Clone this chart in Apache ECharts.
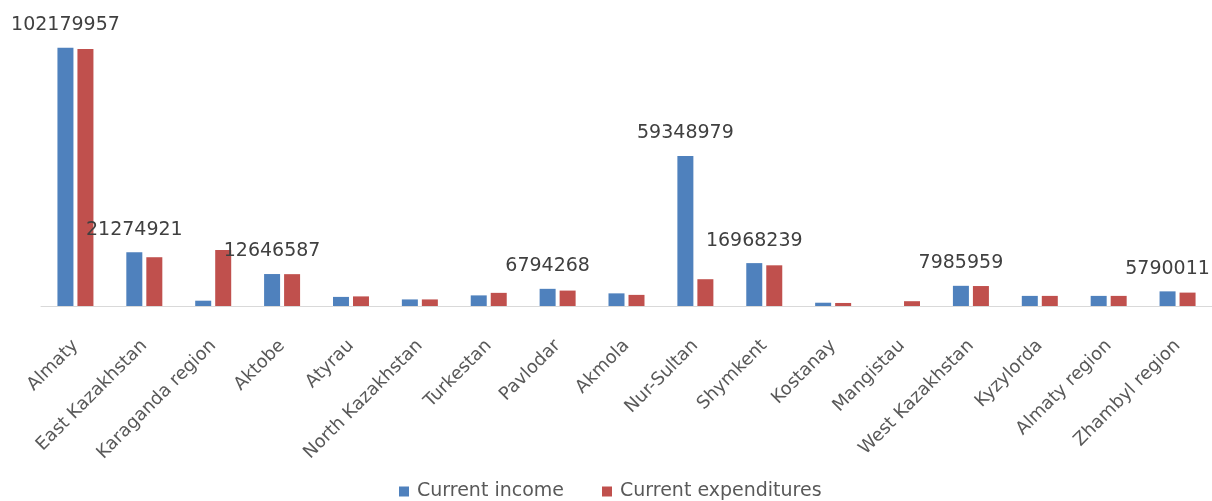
<!DOCTYPE html>
<html>
<head>
<meta charset="utf-8">
<script src="https://cdn.jsdelivr.net/npm/echarts@6/dist/echarts.min.js"></script>
<style>
  html, body { margin: 0; padding: 0; background: #ffffff; }
  #chart { width: 1212px; height: 501px; }
</style>
</head>
<body>
<div id="chart"></div>
<script>
const categories = ["Almaty", "East Kazakhstan", "Karaganda region", "Aktobe", "Atyrau", "North Kazakhstan", "Turkestan", "Pavlodar", "Akmola", "Nur-Sultan", "Shymkent", "Kostanay", "Mangistau", "West Kazakhstan", "Kyzylorda", "Almaty region", "Zhambyl region"];
const currentIncome = [102179957, 21274921, 2100000, 12646587, 3600000, 2600000, 4200000, 6794268, 5000000, 59348979, 16968239, 1300000, 0, 7985959, 4000000, 4000000, 5790011];
const currentExpenditures = [101700000, 19300000, 22200000, 12600000, 3800000, 2600000, 5200000, 6100000, 4400000, 10600000, 16100000, 1200000, 1900000, 7900000, 4000000, 4000000, 5300000];
const labelledIncome = ["Almaty", "East Kazakhstan", "Aktobe", "Pavlodar", "Nur-Sultan", "Shymkent", "West Kazakhstan", "Zhambyl region"];

const chart = echarts.init(document.getElementById('chart'), null, { renderer: 'canvas' });

const incomeData = currentIncome.map((v, i) => ({
  value: v,
  label: { show: labelledIncome.indexOf(categories[i]) >= 0 }
}));

chart.setOption({
  animation: false,
  backgroundColor: '#ffffff',
  grid: { left: 41, right: -3, top: 28, bottom: 195, containLabel: false },
  legend: {
    bottom: -5,
    left: 394,
    icon: 'rect',
    itemWidth: 10,
    itemHeight: 10,
    itemGap: 38,
    textStyle: { fontFamily: 'DejaVu Sans', fontSize: 19, color: '#595959', padding: [0, 0, 0, 3] },
    data: ['Current income', 'Current expenditures']
  },
  xAxis: {
    type: 'category',
    data: categories,
    axisLine: { show: true, lineStyle: { color: '#d9d9d9', width: 1 } },
    axisTick: { show: false },
    axisLabel: {
      interval: 0,
      rotate: 45,
      margin: 37,
      fontFamily: 'DejaVu Sans',
      fontSize: 18,
      color: '#595959'
    }
  },
  yAxis: {
    type: 'value',
    min: 0,
    max: 110000000,
    show: false,
    splitLine: { show: false }
  },
  series: [
    {
      name: 'Current income',
      type: 'bar',
      data: incomeData,
      barWidth: 16,
      barGap: '25%',
      itemStyle: { color: '#4F81BD' },
      label: {
        position: 'top',
        distance: 13,
        fontFamily: 'DejaVu Sans',
        fontSize: 19,
        color: '#404040'
      }
    },
    {
      name: 'Current expenditures',
      type: 'bar',
      data: currentExpenditures,
      barWidth: 16,
      barGap: '25%',
      itemStyle: { color: '#C0504D' }
    }
  ]
});
</script>
</body>
</html>
